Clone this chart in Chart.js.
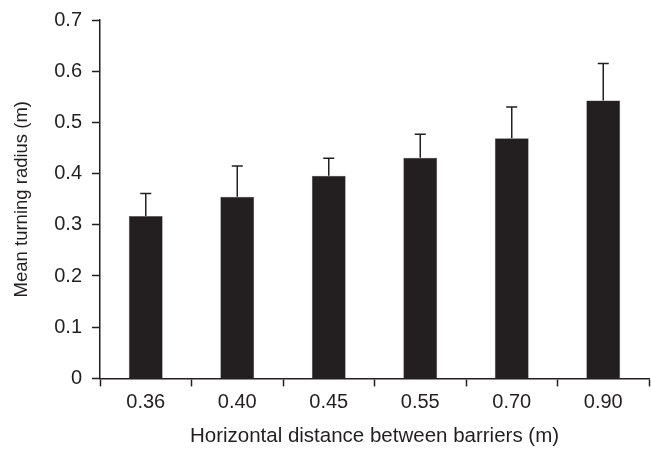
<!DOCTYPE html>
<html>
<head>
<meta charset="utf-8">
<script src="https://cdn.jsdelivr.net/npm/chart.js@4"></script>
<style>
  html, body { margin: 0; padding: 0; background: #fff; }
  #wrap { width: 651px; height: 449px; }
</style>
</head>
<body>
<div id="wrap"><canvas id="turningChart"></canvas></div>
<script>
// Chart data
const distances = ["0.36", "0.40", "0.45", "0.55", "0.70", "0.90"];
const meanRadius = [0.317, 0.355, 0.396, 0.431, 0.469, 0.543];
const errorUpper = [0.361, 0.415, 0.430, 0.477, 0.530, 0.615];
const yTicks = [0, 0.1, 0.2, 0.3, 0.4, 0.5, 0.6, 0.7];

const inkColor = "#231f20";
const fontFamily = "Liberation Sans, Arial, sans-serif";

// Draws the upward error bars with caps
const errorBarPlugin = {
    id: "errorBars",
    afterDatasetsDraw(chart) {
        const ctx = chart.ctx;
        const yScale = chart.scales.y;
        const meta = chart.getDatasetMeta(0);
        ctx.save();
        ctx.strokeStyle = inkColor;
        ctx.lineWidth = 1.5;
        meta.data.forEach((bar, i) => {
            const x = bar.x;
            const yTop = yScale.getPixelForValue(errorUpper[i]);
            const yBar = yScale.getPixelForValue(meanRadius[i]);
            ctx.beginPath();
            ctx.moveTo(x, yBar);
            ctx.lineTo(x, yTop);
            ctx.moveTo(x - 5.5, yTop);
            ctx.lineTo(x + 5.5, yTop);
            ctx.stroke();
        });
        ctx.restore();
    },
};

const ctx = document.getElementById("turningChart").getContext("2d");
new Chart(ctx, {
    type: "bar",
    data: {
        labels: distances,
        datasets: [
            {
                data: meanRadius,
                backgroundColor: inkColor,
                borderColor: "#555",
                borderWidth: 0.5,
                barPercentage: 0.37,
                categoryPercentage: 1,
            },
        ],
    },
    options: {
        responsive: true,
        maintainAspectRatio: false,
        animation: false,
        layout: {
            padding: { top: 2, right: 2, bottom: 0, left: 11 },
        },
        plugins: {
            legend: { display: false },
            tooltip: { enabled: false },
        },
        scales: {
            x: {
                offset: true,
                grid: {
                    offset: true,
                    drawOnChartArea: false,
                    drawTicks: true,
                    tickLength: 8,
                    tickWidth: 1.5,
                    tickColor: inkColor,
                },
                border: { color: inkColor, width: 1.5 },
                ticks: {
                    color: inkColor,
                    padding: 4,
                    font: { family: fontFamily, size: 20 },
                },
                title: {
                    display: true,
                    text: "Horizontal distance between barriers (m)",
                    color: inkColor,
                    padding: { top: 6, bottom: 0 },
                    font: { family: fontFamily, size: 20.5 },
                },
            },
            y: {
                min: 0,
                max: 0.7,
                afterBuildTicks(scale) {
                    scale.ticks = yTicks.map((v) => ({ value: v }));
                },
                afterFit(scale) {
                    scale.width = 89;
                },
                grid: {
                    drawOnChartArea: false,
                    drawTicks: true,
                    tickLength: 8,
                    tickWidth: 1.5,
                    tickColor: inkColor,
                },
                border: { color: inkColor, width: 1.5 },
                ticks: {
                    color: inkColor,
                    padding: 10,
                    callback: (v) => (v === 0 ? "0" : v.toFixed(1)),
                    font: { family: fontFamily, size: 20, lineHeight: 1 },
                },
                title: {
                    display: true,
                    text: "Mean turning radius (m)",
                    color: inkColor,
                    padding: { top: 0, bottom: 8 },
                    font: { family: fontFamily, size: 18.5 },
                },
            },
        },
    },
    plugins: [errorBarPlugin],
});
</script>
</body>
</html>
